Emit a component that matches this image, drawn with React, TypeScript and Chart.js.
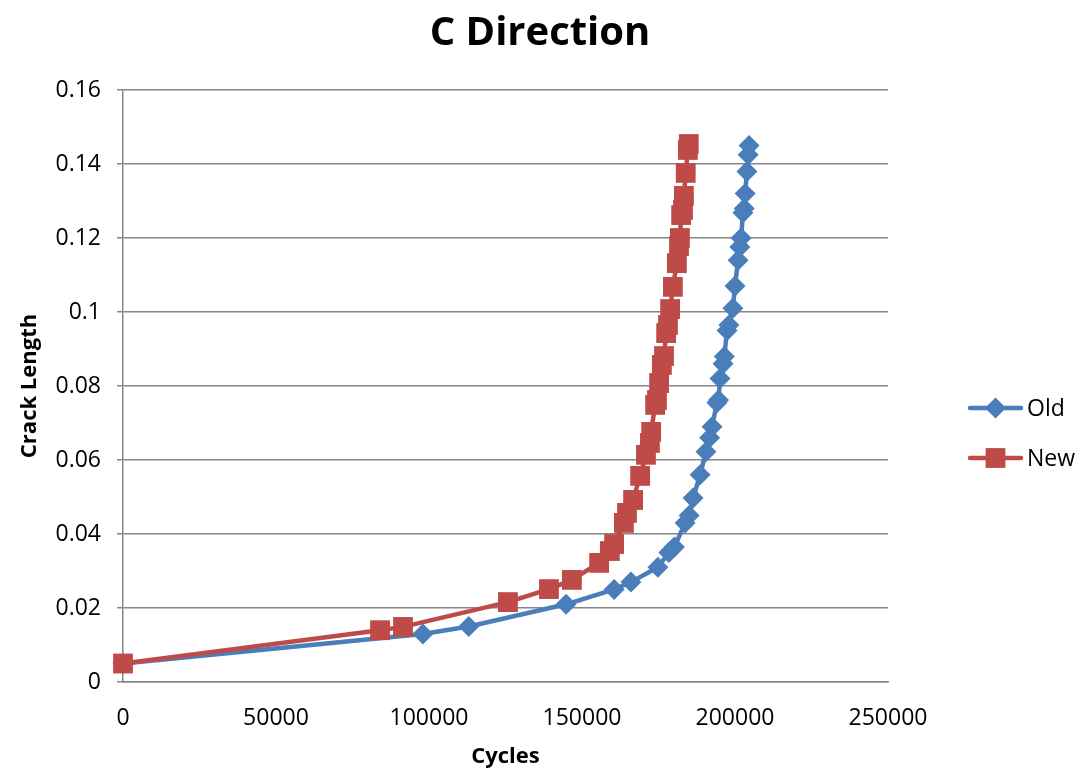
import React, { useEffect, useRef } from "react";
import { Chart, registerables } from "chart.js";

Chart.register(...registerables);

const chartTitle = "C Direction";
const xTitle = "Cycles";
const yTitle = "Crack Length";

const oldCycles = [0, 98000, 113000, 144800, 160500, 166000, 174800, 178400, 180200, 183700, 185000, 186300, 188600, 190500, 191700, 192500, 194100, 194600, 195100, 196100, 196500, 197400, 198000, 199300, 200000, 201000, 201600, 202000, 202600, 203000, 203300, 203900, 204300, 204600];
const oldCrack = [0.005, 0.013, 0.015, 0.021, 0.025, 0.027, 0.031, 0.035, 0.0365, 0.043, 0.045, 0.0497, 0.056, 0.0622, 0.066, 0.069, 0.0755, 0.0762, 0.082, 0.086, 0.088, 0.095, 0.0965, 0.101, 0.107, 0.114, 0.1176, 0.120, 0.1268, 0.128, 0.132, 0.138, 0.1425, 0.145];

const newCycles = [0, 84000, 91500, 125800, 139200, 146700, 155600, 159100, 160500, 163700, 164700, 166700, 169000, 170900, 172200, 172600, 173900, 174500, 175200, 176100, 176800, 177500, 178100, 178800, 179700, 181000, 181700, 182000, 182400, 183000, 183300, 183900, 184600, 184900];
const newCrack = [0.005, 0.014, 0.0149, 0.0216, 0.0251, 0.0276, 0.0322, 0.0354, 0.0373, 0.043, 0.0457, 0.0492, 0.0557, 0.0614, 0.0646, 0.0676, 0.0749, 0.0762, 0.0808, 0.0857, 0.0881, 0.0943, 0.0965, 0.1008, 0.1068, 0.1132, 0.1178, 0.12, 0.1262, 0.1276, 0.1314, 0.1376, 0.1438, 0.1454];

const seriesNames = ["Old", "New"];
const blue = "#4A7EBB";
const red = "#BE4B48";
const FONT = "'Open Sans', 'DejaVu Sans', sans-serif";

const toPoints = (xs: number[], ys: number[]) => xs.map((x, i) => ({ x, y: ys[i] }));

const overlayPlugin = {
  id: "overlay",
  afterDraw(chart: any) {
    const ctx = chart.ctx;
    ctx.save();
    ctx.fillStyle = "#000";
    ctx.font = `bold 40px ${FONT}`;
    ctx.textAlign = "center";
    ctx.textBaseline = "middle";
    ctx.fillText(chartTitle, 540, 34);
    const items = [
      { name: seriesNames[0], color: blue, style: "rectRot", r: 10.5, y: 408 },
      { name: seriesNames[1], color: red, style: "rect", r: 14, y: 458 },
    ];
    items.forEach((it) => {
      ctx.strokeStyle = it.color;
      ctx.lineWidth = 4.5;
      ctx.lineCap = "round";
      ctx.beginPath();
      ctx.moveTo(970, it.y);
      ctx.lineTo(1021, it.y);
      ctx.stroke();
      ctx.fillStyle = it.color;
      if (it.style === "rect") {
        const s = it.r * Math.SQRT1_2;
        ctx.fillRect(995.5 - s, it.y - s, 2 * s, 2 * s);
      } else {
        ctx.beginPath();
        ctx.moveTo(995.5 - it.r, it.y);
        ctx.lineTo(995.5, it.y - it.r);
        ctx.lineTo(995.5 + it.r, it.y);
        ctx.lineTo(995.5, it.y + it.r);
        ctx.closePath();
        ctx.fill();
      }
      ctx.fillStyle = "#000";
      ctx.font = `23px ${FONT}`;
      ctx.textAlign = "left";
      ctx.textBaseline = "middle";
      ctx.fillText(it.name, 1027, it.y + 1);
    });
    ctx.restore();
  },
};

export default function App() {
  const canvasRef = useRef<HTMLCanvasElement | null>(null);

  useEffect(() => {
    document.body.style.margin = "0";
    const canvas = canvasRef.current;
    if (!canvas) return;
    const chart = new Chart(canvas, {
      type: "line",
      data: {
        datasets: [
          {
            label: seriesNames[0],
            data: toPoints(oldCycles, oldCrack),
            borderColor: blue,
            backgroundColor: blue,
            borderWidth: 4.5,
            pointStyle: "rectRot",
            pointRadius: 10.5,
            pointBorderWidth: 0,
            pointBackgroundColor: blue,
            tension: 0,
            clip: false,
            order: 1,
          },
          {
            label: seriesNames[1],
            data: toPoints(newCycles, newCrack),
            borderColor: red,
            backgroundColor: red,
            borderWidth: 4.5,
            pointStyle: "rect",
            pointRadius: 14,
            pointBorderWidth: 0,
            pointBackgroundColor: red,
            tension: 0,
            clip: false,
            order: 0,
          },
        ],
      },
      options: {
        responsive: false,
        animation: false,
        layout: { padding: { top: 90, right: 197, left: 0, bottom: 0 } },
        plugins: {
          legend: { display: false },
          title: { display: false },
          tooltip: { enabled: false },
        },
        scales: {
          x: {
            type: "linear",
            min: 0,
            max: 250000,
            afterFit: (s: any) => {
              s.height = 96;
            },
            ticks: {
              stepSize: 50000,
              color: "#000",
              font: { family: FONT, size: 23 },
              padding: 23,
              maxRotation: 0,
              callback: (v: any) => String(v),
            },
            grid: { display: false, drawTicks: false },
            border: { display: true, color: "#868686", width: 1.5 },
            title: {
              display: true,
              text: xTitle,
              color: "#000",
              font: { family: FONT, size: 22, weight: "bold" },
              padding: { top: 0, bottom: 8 },
            },
          },
          y: {
            type: "linear",
            min: 0,
            max: 0.16,
            afterFit: (s: any) => {
              s.width = 123;
            },
            ticks: {
              stepSize: 0.02,
              color: "#000",
              font: { family: FONT, size: 23 },
              padding: 16,
              callback: (v: any) => String(Math.round(Number(v) * 100) / 100),
            },
            grid: {
              color: "#868686",
              lineWidth: 1.5,
              drawTicks: true,
              tickLength: 6,
            },
            border: { display: true, color: "#868686", width: 1.5 },
            title: {
              display: true,
              text: yTitle,
              color: "#000",
              font: { family: FONT, size: 22, weight: "bold" },
              padding: { top: 17, bottom: 0 },
            },
          },
        },
      },
      plugins: [overlayPlugin],
    });
    return () => chart.destroy();
  }, []);

  return (
    <div style={{ width: 1085, height: 778 }}>
      <canvas ref={canvasRef} width={1085} height={778} style={{ display: "block" }} />
    </div>
  );
}
